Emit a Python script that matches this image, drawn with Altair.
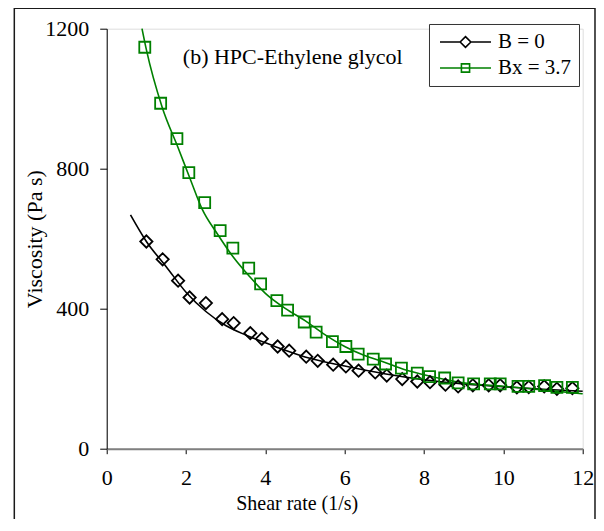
import altair as alt
import pandas as pd

# ---------------- data ----------------
series_names = ["B = 0", "Bx = 3.7"]
series_colors = ["#000000", "#008000"]

shear_b0 = [1.00, 1.41, 1.80, 2.09, 2.50, 2.91, 3.20, 3.62, 3.91, 4.31, 4.60, 5.03, 5.32,
            5.71, 6.03, 6.35, 6.77, 7.06, 7.45, 7.83, 8.15, 8.54, 8.86, 9.23, 9.63, 9.92,
            10.34, 10.64, 11.03, 11.35, 11.74]
visc_b0 = [592, 541, 480, 432, 416, 370, 359, 330, 314, 292, 280, 263, 251,
           240, 235, 223, 218, 209, 199, 192, 190, 183, 178, 181, 181, 181,
           175, 176, 178, 171, 173]

shear_bx = [0.96, 1.36, 1.77, 2.07, 2.47, 2.86, 3.18, 3.58, 3.88, 4.29, 4.56, 4.98, 5.28,
            5.69, 6.03, 6.34, 6.72, 7.03, 7.43, 7.83, 8.14, 8.52, 8.86, 9.25, 9.67, 9.92,
            10.37, 10.64, 11.04, 11.35, 11.74]
visc_bx = [1147, 987, 886, 789, 703, 623, 573, 516, 471, 423, 396, 362, 333,
           306, 292, 270, 256, 242, 230, 216, 206, 202, 188, 185, 185, 185,
           178, 178, 180, 175, 175]

fit_b0_x = [0.6, 1.0, 1.5, 2.0, 2.5, 3.0, 3.5, 4.0, 4.5, 5.0, 6.0, 7.0, 8.0, 9.0, 10.0, 11.0, 12.0]
fit_b0_y = [668, 592, 520, 447, 392, 352, 325, 303, 281, 262, 236, 214, 197, 185, 177, 170, 164]

fit_bx_x = [0.89, 1.0, 1.4, 1.8, 2.1, 2.4, 2.8, 3.2, 3.6, 4.0, 4.5, 5.0, 5.5, 6.0, 6.5, 7.0,
            7.5, 8.0, 9.0, 10.0, 11.0, 12.0]
fit_bx_y = [1200, 1140, 975, 860, 772, 686, 612, 546, 492, 444, 401, 366, 326, 292, 266, 247,
            226, 211, 188, 178, 168, 157]

x_ticks = [0, 2, 4, 6, 8, 10, 12]
y_ticks = [0, 400, 800, 1200]
annotation = "(b) HPC-Ethylene glycol"
x_title = "Shear rate (1/s)"
y_title = "Viscosity (Pa s)"

# legend symbols: line with marker (custom paths)
legend_paths = [
    "M-1,0H-0.21M0.21,0H1M0,-0.21L0.21,0L0,0.21L-0.21,0Z",
    "M-1,0H1M-0.16,-0.16H0.16V0.16H-0.16Z",
]

FONT = "Liberation Serif"

pts = pd.concat([
    pd.DataFrame({"x": shear_b0, "y": visc_b0, "series": series_names[0]}),
    pd.DataFrame({"x": shear_bx, "y": visc_bx, "series": series_names[1]}),
], ignore_index=True)

fits = pd.concat([
    pd.DataFrame({"x": fit_b0_x, "y": fit_b0_y, "series": series_names[0],
                  "i": list(range(len(fit_b0_x)))}),
    pd.DataFrame({"x": fit_bx_x, "y": fit_bx_y, "series": series_names[1],
                  "i": list(range(len(fit_bx_x)))}),
], ignore_index=True)

xscale = alt.Scale(domain=[0, 12], nice=False, zero=False)
yscale = alt.Scale(domain=[0, 1200], nice=False)

x_enc = alt.X("x:Q", scale=xscale, title=x_title,
              axis=alt.Axis(values=x_ticks, format="d", grid=False, domainColor="#808080",
                            domainWidth=2, tickColor="black", tickSize=5, labelFlush=False,
                            labelFont=FONT, labelFontSize=22, labelColor="black", labelPadding=14,
                            titleFont=FONT, titleFontSize=20, titleFontWeight="normal",
                            titleColor="black", titleX=190, titleY=61,
                            titleAlign="center", titleBaseline="alphabetic"))
y_enc = alt.Y("y:Q", scale=yscale, title=y_title,
              axis=alt.Axis(values=y_ticks, format="d", grid=False, domainColor="black",
                            domainWidth=1, tickColor="black", tickSize=7, labelFlush=False,
                            labelFont=FONT, labelFontSize=22, labelColor="black", labelPadding=11,
                            titleFont=FONT, titleFontSize=22, titleFontWeight="normal",
                            titleColor="black", titleX=-72, titleY=210, titleAngle=270,
                            titleAlign="center", titleBaseline="middle"))

cscale = alt.Scale(domain=series_names, range=series_colors)

frame = alt.Chart(pd.DataFrame({"k": [0]})).mark_rect(
    fillOpacity=0, stroke="#1a1a1a", strokeWidth=1.5
).encode(x=alt.value(-92.4), x2=alt.value(488.3), y=alt.value(-20.4), y2=alt.value(620))

lines = alt.Chart(fits).mark_line(strokeWidth=1.6, interpolate="monotone").encode(
    x=x_enc, y=y_enc,
    color=alt.Color("series:N", scale=cscale, legend=None),
    order="i:Q",
)

points = alt.Chart(pts).mark_point(filled=False, strokeWidth=1.8, opacity=1).encode(
    x=x_enc, y=y_enc,
    color=alt.Color("series:N", scale=cscale, legend=None),
    shape=alt.Shape("series:N", scale=alt.Scale(domain=series_names, range=["diamond", "square"]),
                    legend=None),
    size=alt.Size("series:N", scale=alt.Scale(domain=series_names, range=[150, 121]), legend=None),
)

leg = alt.Legend(title=None, orient="none", legendX=322.3, legendY=-4.7, padding=7,
                 fillColor="white", strokeColor="#333333", symbolSize=2601,
                 symbolStrokeWidth=1.6, symbolOpacity=1, symbolOffset=3, labelOffset=6,
                 labelFont=FONT, labelFontSize=21, labelColor="black", rowPadding=4,
                 clipHeight=22)

legend_layer = alt.Chart(fits).mark_point(opacity=0, filled=False, size=2601).encode(
    x=x_enc, y=y_enc,
    color=alt.Color("series:N", scale=cscale, legend=leg),
    shape=alt.Shape("series:N", scale=alt.Scale(domain=series_names, range=legend_paths),
                    legend=leg),
)

note = alt.Chart(pd.DataFrame({"x": [1.92], "y": [1099], "t": [annotation]})).mark_text(
    align="left", baseline="alphabetic", font=FONT, fontSize=22, color="black"
).encode(x=x_enc, y=y_enc, text="t:N")

chart = alt.layer(frame, lines, points, legend_layer, note).resolve_scale(
    color="independent", shape="independent", size="independent"
).properties(
    width=476, height=420, autosize="none",
    padding={"left": 98.7, "top": 20.7, "right": 13.3, "bottom": 70},
).configure_view(stroke=None).configure(font=FONT)

chart.save("out.html", embed_options={"renderer": "svg", "actions": False})
